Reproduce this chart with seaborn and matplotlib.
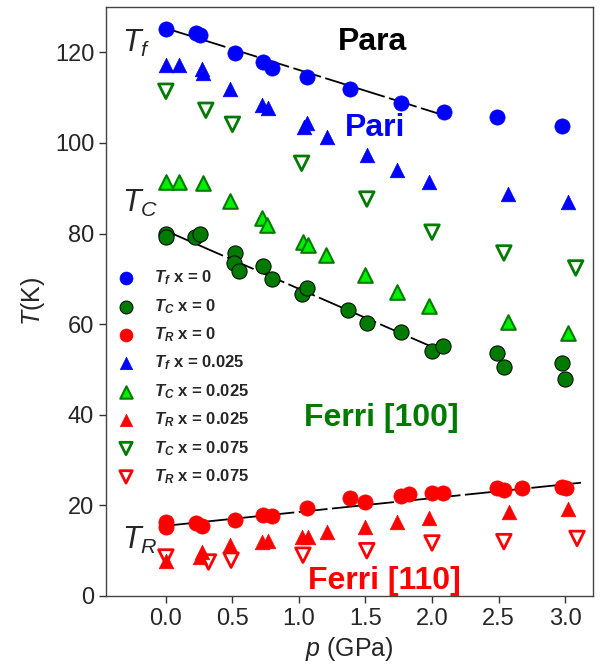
import numpy as np
import matplotlib
matplotlib.use('Agg')
import matplotlib.pyplot as plt
import seaborn as sns

# Data (pressure in GPa, temperature in K)
# x = 0 sample
tf0_p = [0, 0.23, 0.26, 0.52, 0.73, 0.80, 1.06, 1.38, 1.77, 2.09, 2.49, 2.98]
tf0_T = [125.1, 124.2, 123.8, 119.8, 117.8, 116.5, 114.5, 111.8, 108.8, 106.8, 105.7, 103.7]

tc0_p = [0, 0, 0.22, 0.26, 0.52, 0.51, 0.55, 0.73, 0.80, 1.02, 1.06, 1.37, 1.51, 1.77,
         2.0, 2.08, 2.49, 2.54, 2.98, 3.0]
tc0_T = [79.9, 79.2, 79.2, 79.9, 75.7, 73.5, 71.7, 72.8, 69.9, 66.6, 68.0, 63.1, 60.2, 58.2,
         54.0, 55.2, 53.6, 50.5, 51.4, 47.9]

tr0_p = [0, 0, 0.23, 0.27, 0.52, 0.73, 0.80, 1.06, 1.38, 1.50, 1.77, 1.83, 2.0, 2.08,
         2.49, 2.54, 2.68, 2.98, 3.01]
tr0_T = [16.4, 15.2, 16.0, 15.4, 16.8, 17.8, 17.6, 19.4, 21.6, 20.7, 22.1, 22.5, 22.7, 22.8,
         23.8, 23.4, 23.8, 24.0, 23.8]

# x = 0.025 sample
tf025_p = [0, 0.1, 0.27, 0.28, 0.48, 0.72, 0.77, 1.04, 1.06, 1.21, 1.51, 1.74, 1.98, 2.57, 3.02]
tf025_T = [117.1, 117.3, 116.3, 115.4, 112.0, 108.3, 107.8, 103.5, 104.3, 101.2, 97.3, 94.0,
           91.4, 88.7, 87.0]

tc025_p = [0, 0.1, 0.28, 0.48, 0.72, 0.76, 1.03, 1.07, 1.20, 1.50, 1.74, 1.98, 2.57, 3.02]
tc025_T = [91.3, 91.3, 91.1, 87.1, 83.4, 81.8, 78.1, 77.4, 75.2, 70.8, 67.0, 63.9, 60.4, 58.0]

tr025_p = [0, 0.26, 0.27, 0.48, 0.72, 0.77, 1.02, 1.07, 1.21, 1.50, 1.74, 1.98, 2.58, 3.02]
tr025_T = [7.7, 8.6, 9.7, 11.2, 11.9, 12.1, 13.0, 13.0, 14.1, 15.2, 16.3, 17.2, 18.5, 19.1]

# x = 0.075 sample
tc075_p = [0, 0.30, 0.50, 1.02, 1.51, 2.0, 2.54, 3.08]
tc075_T = [111.4, 107.2, 104.1, 95.5, 87.6, 80.3, 75.7, 72.4]

tr075_p = [0, 0.32, 0.49, 1.03, 1.51, 2.0, 2.54, 3.09]
tr075_T = [8.6, 7.5, 7.9, 9.0, 10.0, 11.7, 12.0, 12.7]

# linear guides drawn through the x = 0 data
tf_fit_p = [0, 2.11]
tf_fit_T = [125.3, 105.9]
tc_fit_p = [0, 2.03]
tc_fit_T = [80.6, 54.6]
tr_fit_p = [0, 3.12]
tr_fit_T = [15.5, 25.0]

# Style
sns.set_style('ticks')
plt.rcParams['font.family'] = ['Liberation Sans', 'DejaVu Sans']
plt.rcParams['mathtext.fontset'] = 'custom'
plt.rcParams['mathtext.rm'] = 'Liberation Sans'
plt.rcParams['mathtext.it'] = 'Liberation Sans:italic'
plt.rcParams['mathtext.bf'] = 'Liberation Sans:bold'
plt.rcParams['mathtext.bfit'] = 'Liberation Sans:bold:italic'

blue = '#0000ff'
dgreen = '#007a00'
lgreen = '#00f000'
red = '#ff0000'

fig = plt.figure(figsize=(6.01, 6.71), dpi=100)
ax = fig.add_axes([0.1764, 0.1118, 0.8103, 0.8778])

# dashed guides
dash = (0, (16, 2.5))
for fp, fT in [(tf_fit_p, tf_fit_T), (tc_fit_p, tc_fit_T), (tr_fit_p, tr_fit_T)]:
    sns.lineplot(x=fp, y=fT, ax=ax, color='black', lw=1.3, linestyle=dash, zorder=3)

# scatter series
s_circ = 120
s_tri = 110
sns.scatterplot(x=tf0_p, y=tf0_T, ax=ax, marker='o', s=s_circ, color=blue, edgecolor=blue,
                linewidth=0.5, label=r'$\mathbfit{T}_{\mathbfit{f}}$ x = 0', zorder=4)
sns.scatterplot(x=tc0_p, y=tc0_T, ax=ax, marker='o', s=s_circ, color=dgreen, edgecolor='black',
                linewidth=0.7, label=r'$\mathbfit{T}_{\mathbfit{C}}$ x = 0', zorder=4)
sns.scatterplot(x=tr0_p, y=tr0_T, ax=ax, marker='o', s=s_circ, color=red, edgecolor=red,
                linewidth=0.5, label=r'$\mathbfit{T}_{\mathbfit{R}}$ x = 0', zorder=4)
sns.scatterplot(x=tf025_p, y=tf025_T, ax=ax, marker='^', s=s_tri, color=blue, edgecolor=blue,
                linewidth=0.5, label=r'$\mathbfit{T}_{\mathbfit{f}}$ x = 0.025', zorder=4)
sns.scatterplot(x=tc025_p, y=tc025_T, ax=ax, marker='^', s=s_tri, color=lgreen, edgecolor=dgreen,
                linewidth=1.5, label=r'$\mathbfit{T}_{\mathbfit{C}}$ x = 0.025', zorder=4)
sns.scatterplot(x=tr025_p, y=tr025_T, ax=ax, marker='^', s=s_tri, color=red, edgecolor=red,
                linewidth=0.5, label=r'$\mathbfit{T}_{\mathbfit{R}}$ x = 0.025', zorder=4)
sns.scatterplot(x=tc075_p, y=tc075_T, ax=ax, marker='v', s=s_tri, facecolor='none', edgecolor=dgreen,
                linewidth=2, label=r'$\mathbfit{T}_{\mathbfit{C}}$ x = 0.075', zorder=4)
sns.scatterplot(x=tr075_p, y=tr075_T, ax=ax, marker='v', s=s_tri, facecolor='none', edgecolor=red,
                linewidth=2, label=r'$\mathbfit{T}_{\mathbfit{R}}$ x = 0.075', zorder=4)

# phase labels
ax.text(1.55, 122.2, 'Para', fontsize=23, fontweight='bold', color='black', ha='center', va='center')
ax.text(1.57, 103.2, 'Pari', fontsize=23, fontweight='bold', color=blue, ha='center', va='center')
ax.text(1.62, 39.3, 'Ferri [100]', fontsize=23, fontweight='bold', color=dgreen, ha='center', va='center')
ax.text(1.64, 3.3, 'Ferri [110]', fontsize=23, fontweight='bold', color=red, ha='center', va='center',
        zorder=5, clip_on=False)
ax.text(-0.33, 125.3, r'$T_f$', fontsize=22, ha='left', va='top')
ax.text(-0.33, 90.0, r'$T_C$', fontsize=22, ha='left', va='top')
ax.text(-0.33, 15.7, r'$T_R$', fontsize=22, ha='left', va='top')

# axes
ax.set_xlim(-0.45, 3.21)
ax.set_ylim(0, 130)
ax.set_xticks([0, 0.5, 1.0, 1.5, 2.0, 2.5, 3.0])
ax.set_xticklabels(['0.0', '0.5', '1.0', '1.5', '2.0', '2.5', '3.0'])
ax.set_yticks([0, 20, 40, 60, 80, 100, 120])
ax.tick_params(direction='out', length=5, width=1, labelsize=17, color='#333333')
for sp in ax.spines.values():
    sp.set_visible(True)
    sp.set_color('#444444')
    sp.set_linewidth(1)
ax.set_xlabel(r'$p$ (GPa)', fontsize=18)
ax.set_ylabel(r'$T$(K)', fontsize=18, labelpad=6)

ax.legend(loc='upper left', bbox_to_anchor=(0.0, 0.567), borderaxespad=0, frameon=False,
          prop={'weight': 'bold', 'size': 12}, labelspacing=0.58, handlelength=1.6,
          handletextpad=0.9, markerscale=0.85)

plt.savefig('out.png', dpi=100)
